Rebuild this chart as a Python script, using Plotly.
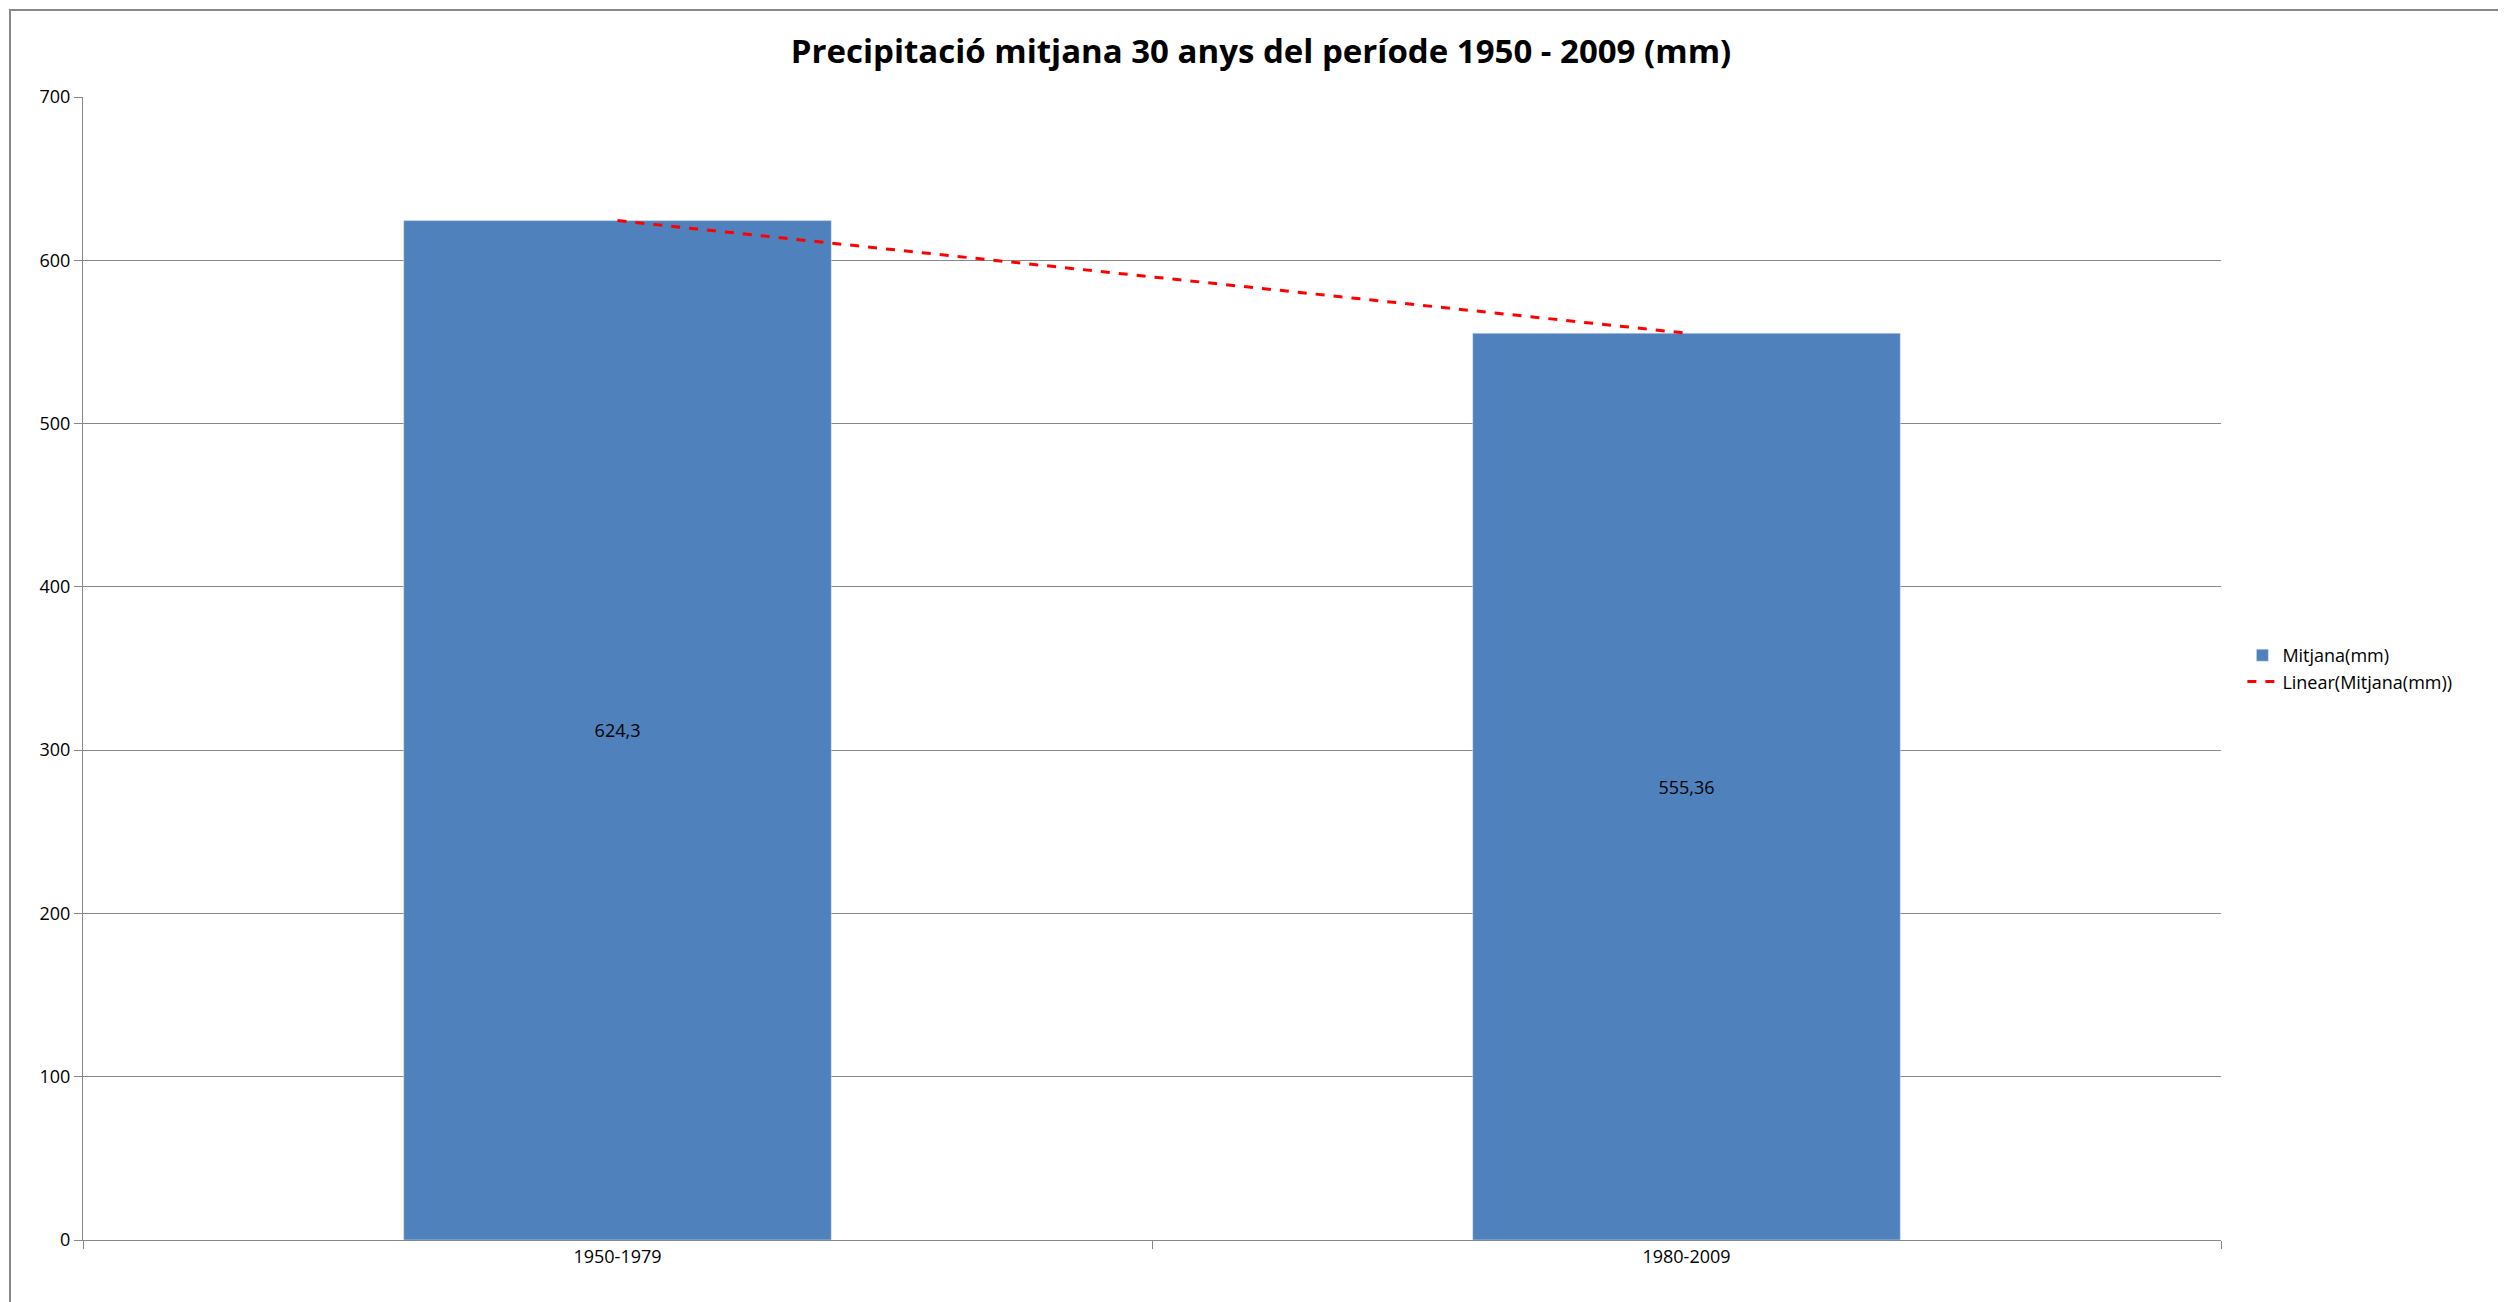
import plotly.graph_objects as go

periods = ["1950-1979", "1980-2009"]
mitjana = [624.3, 555.36]
labels = ["624,3", "555,36"]
y_ticks = [0, 100, 200, 300, 400, 500, 600, 700]

W, H = 2506, 1302
L, R, T, B = 75, 2506 - 2213, 89, 1302 - 1232
pw, ph = W - L - R, H - T - B
font = "Open Sans"

fig = go.Figure()
fig.add_trace(go.Bar(
    x=periods, y=mitjana, name="Mitjana(mm)", marker_color="#4F81BD",
    text=labels, textposition="inside", insidetextanchor="middle",
    textfont=dict(size=18, color="black", family=font), textangle=0,
))
fig.add_trace(go.Scatter(
    x=periods, y=mitjana, mode="lines", name="Linear(Mitjana(mm))",
    line=dict(color="#FF0000", dash="dash", width=3),
))
fig.update_layout(
    width=W, height=H, margin=dict(l=L, r=R, t=T, b=B),
    paper_bgcolor="white", plot_bgcolor="white", bargap=0.6,
    font=dict(family=font, size=18, color="black"),
    title=dict(text="<b>Precipitació mitjana 30 anys del període 1950 - 2009 (mm)</b>",
               x=0.5, xanchor="center", y=1 - 43 / H, yanchor="middle",
               font=dict(size=33, family=font)),
    legend=dict(x=1.01, y=0.5, xanchor="left", yanchor="middle",
                font=dict(size=18), tracegroupgap=10),
    showlegend=True,
)
fig.update_xaxes(showline=True, linecolor="#888", ticks="outside", tickcolor="#888",
                 ticklen=8, tickson="boundaries", showgrid=False)
fig.update_yaxes(range=[0, 700], tickvals=y_ticks, showline=True, linecolor="#888",
                 ticks="outside", tickcolor="#888", ticklen=8, gridcolor="#888",
                 gridwidth=1, zeroline=False)
fig.add_shape(type="rect", xref="paper", yref="paper",
              x0=(2 - L) / pw, x1=(W - 2 - L) / pw,
              y0=-(B - 2) / ph, y1=1 + (T - 2) / ph,
              line=dict(color="#888", width=2))
fig.write_html("out.html")
